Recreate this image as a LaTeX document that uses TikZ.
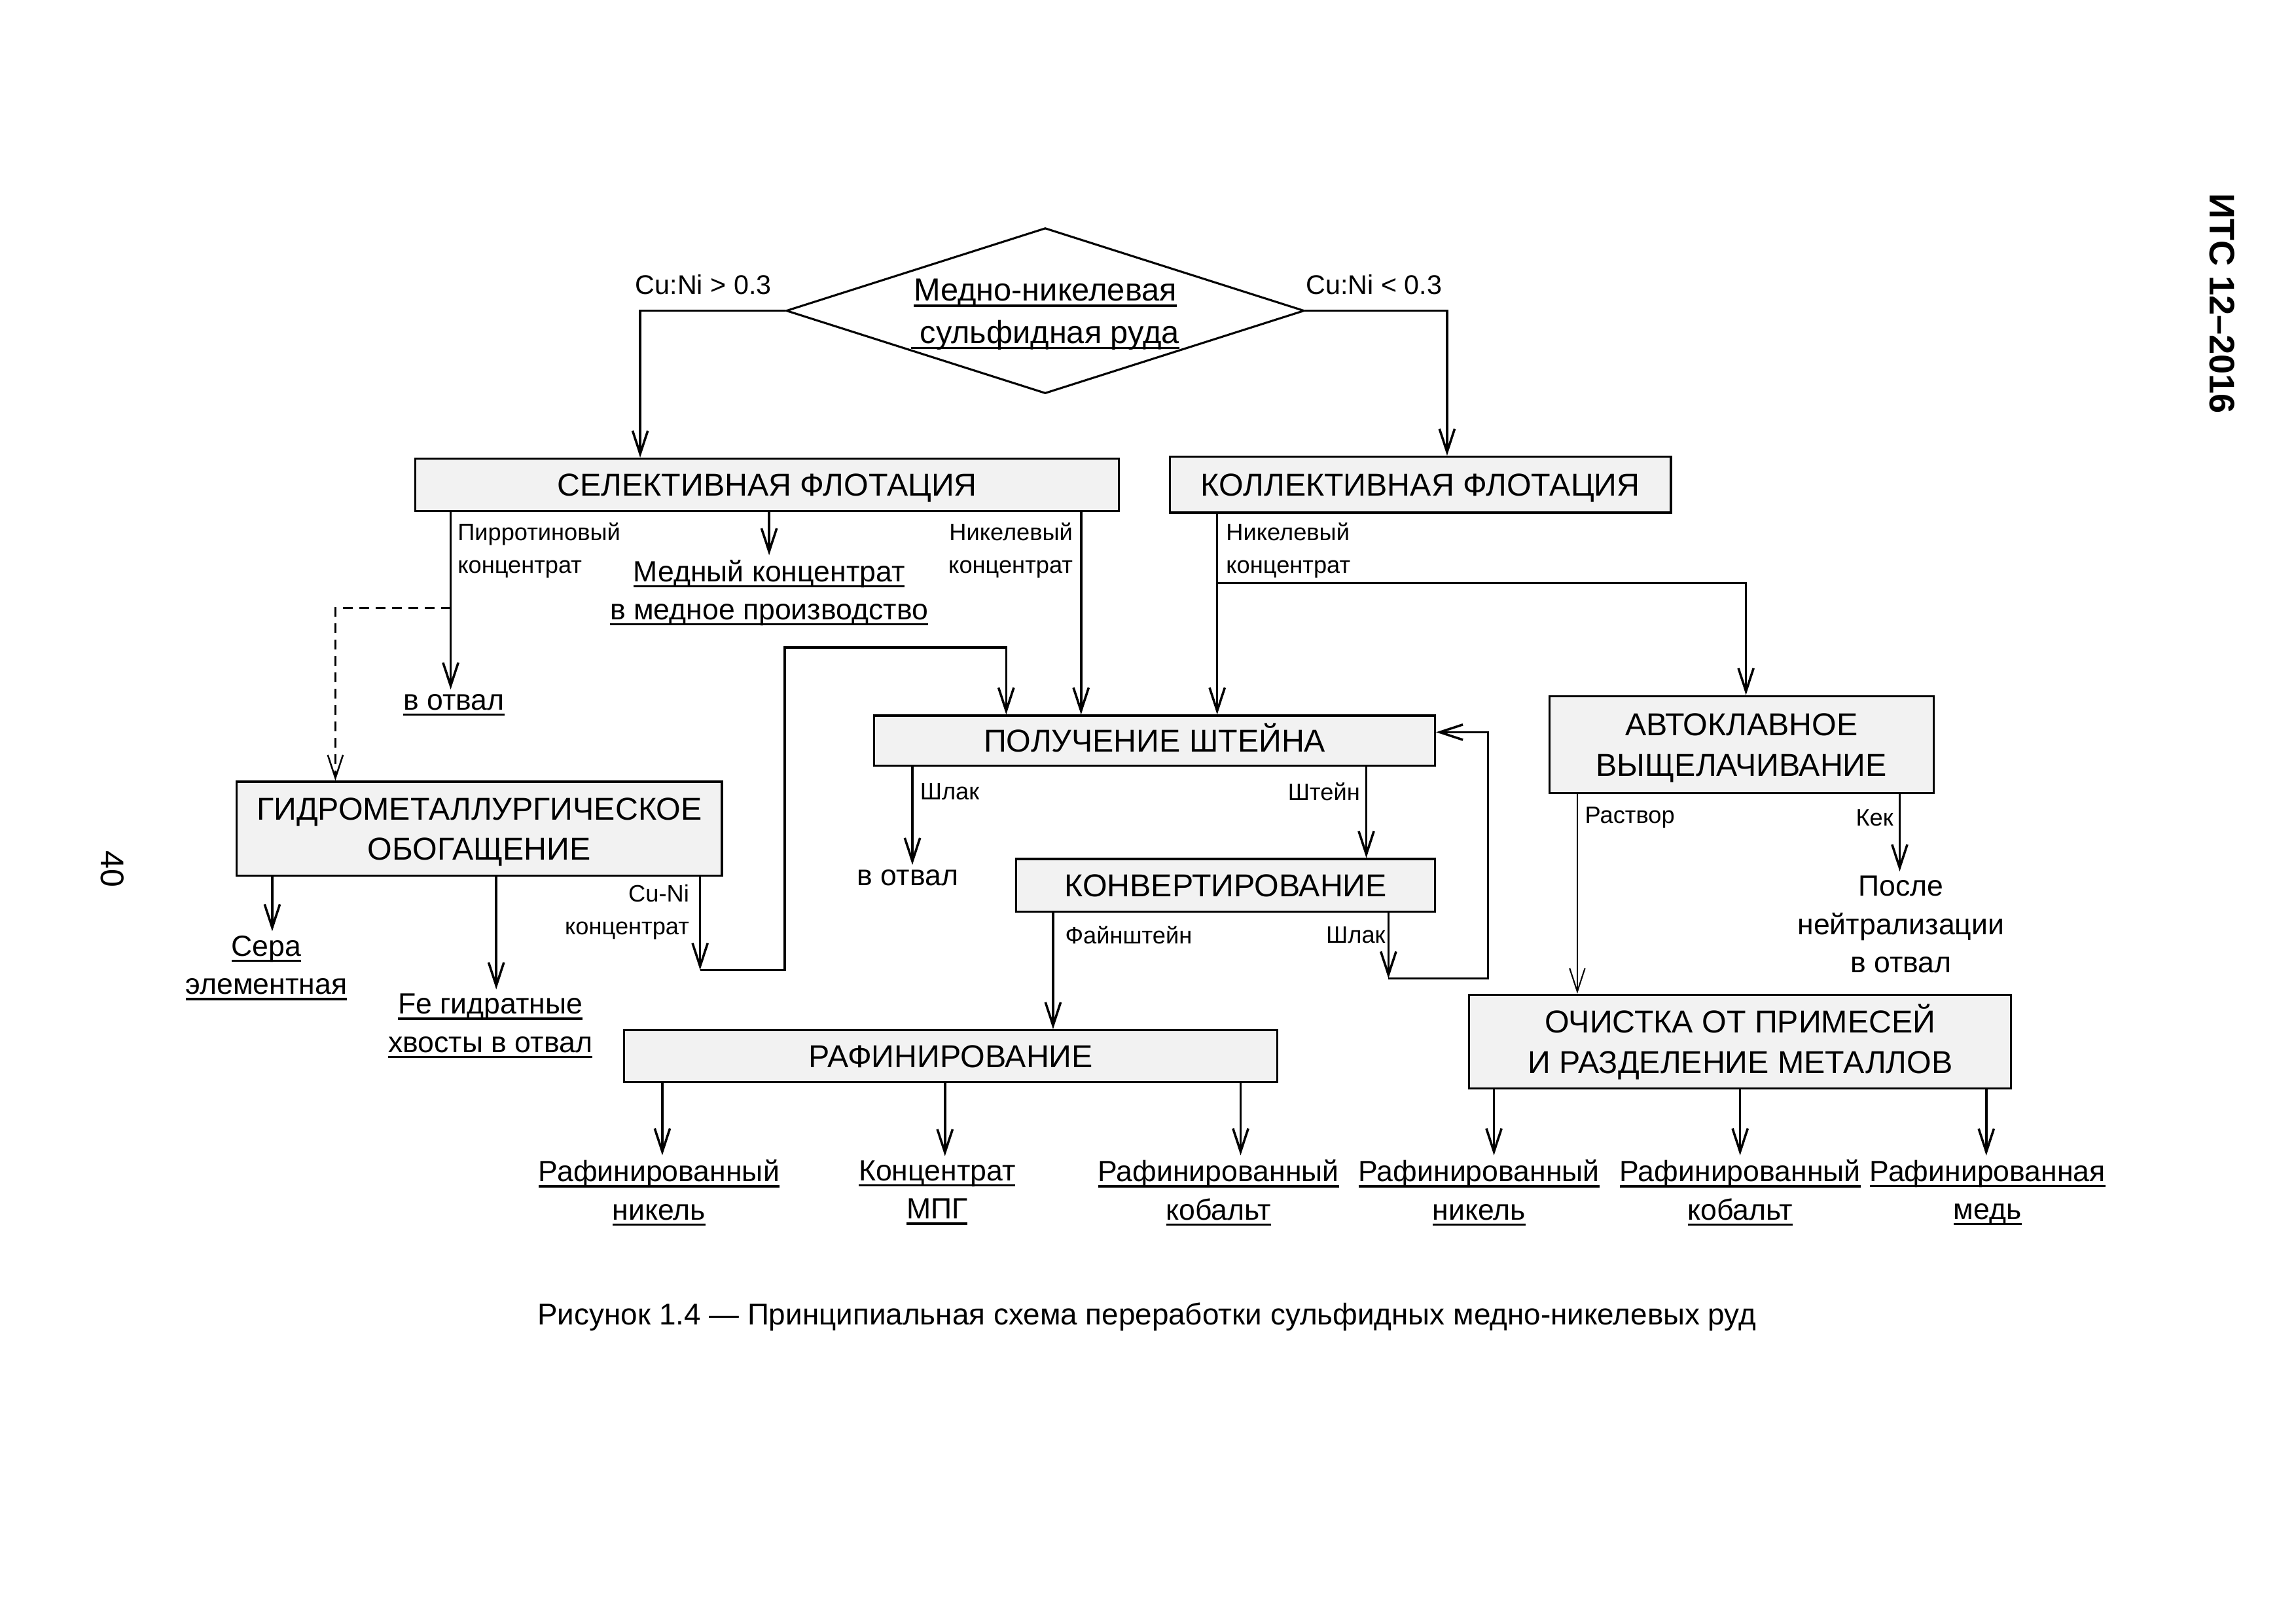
\documentclass[tikz,border=0pt]{standalone}
\usepackage{fontspec}
\setmainfont{Liberation Sans}
\usetikzlibrary{arrows.meta,shapes.geometric}
\definecolor{boxgray}{HTML}{F2F2F2}
\newcommand\uln[1]{\setbox0\hbox{#1}\leavevmode\rlap{\vrule height -1.3pt depth 2.1pt width \wd0}\box0}
\begin{document}
\begin{tikzpicture}[x=0.2388pt,y=-0.2388pt,
  box/.style={draw, line width=0.75pt, fill=boxgray, inner sep=0pt, align=center,
    font=\fontsize{11.6}{14.8}\selectfont, text height=8.3pt, text depth=0pt},
  box2/.style={box, text height=23.1pt, text depth=0pt},
  dia/.style={diamond, draw, line width=0.75pt, aspect=3.13, minimum width=190pt,
    minimum height=60.7pt, inner sep=0pt, align=center, font=\fontsize{11.7}{15.5}\selectfont,
    text height=23.9pt, text depth=0pt},
  arr/.style={-{Straight Barb[length=8.5pt,width=5.6pt]}, line width=0.85pt},
  thinarr/.style={-{Straight Barb[length=8.5pt,width=5.6pt]}, line width=0.5pt},
  dasharr/.style={-{Straight Barb[length=8.5pt,width=5.6pt]}, line width=0.6pt, dash pattern=on 3.5pt off 2.5pt},
  lbl/.style={font=\fontsize{8.7}{12}\selectfont, inner sep=0pt},
  cond/.style={font=\fontsize{9.9}{12}\selectfont, inner sep=0pt},
  outtxt/.style={font=\fontsize{10.7}{14}\selectfont, align=center, inner sep=1.5pt}]
\useasboundingbox (0,0) rectangle (3525.6,2491.4);

% columns
\coordinate (xL) at (983,0);
\coordinate (xR) at (2222,0);
\coordinate (xPyr) at (692,0);
\coordinate (xDash) at (515,0);
\coordinate (xNs) at (1660,0);
\coordinate (xNk) at (1869,0);
\coordinate (xAv) at (2681,0);
\coordinate (xLoop) at (1545,0);
\coordinate (xSer) at (418,0);
\coordinate (xFe) at (762,0);
\coordinate (xShl) at (1401,0);
\coordinate (xSht) at (2098,0);
\coordinate (xFai) at (1617,0);
\coordinate (xR1) at (1017,0);
\coordinate (xR2) at (1451,0);
\coordinate (xR3) at (1905,0);
\coordinate (xRas) at (2422,0);
\coordinate (xKek) at (2917,0);
\coordinate (xO1) at (2294,0);
\coordinate (xO2) at (2672,0);
\coordinate (xO3) at (3050,0);

% main nodes
\node[dia] (ore) at (1605,477) {\uln{Медно-никелевая}\\\uln{ сульфидная руда}};
\node[box, minimum width=258pt, minimum height=19.1pt] (sel) at (1178,744) {СЕЛЕКТИВНАЯ ФЛОТАЦИЯ};
\node[box, minimum width=183.8pt, minimum height=20.5pt] (kol) at (2181,744) {КОЛЛЕКТИВНАЯ ФЛОТАЦИЯ};
\node[box, minimum width=205.6pt, minimum height=18.4pt] (polu) at (1773,1137) {ПОЛУЧЕНИЕ ШТЕЙНА};
\node[box2, minimum width=177.9pt, minimum height=34.4pt] (gidro) at (736,1272) {ГИДРОМЕТАЛЛУРГИЧЕСКОЕ\\ОБОГАЩЕНИЕ};
\node[box, minimum width=153.5pt, minimum height=19.3pt] (konv) at (1882,1359) {КОНВЕРТИРОВАНИЕ};
\node[box, minimum width=239.5pt, minimum height=18.9pt] (raf) at (1460,1621) {РАФИНИРОВАНИЕ};
\node[box2, minimum width=140.9pt, minimum height=35.6pt] (avto) at (2674,1143) {АВТОКЛАВНОЕ\\ВЫЩЕЛАЧИВАНИЕ};
\node[box2, minimum width=198.7pt, minimum height=34.4pt] (ochi) at (2672,1599) {ОЧИСТКА ОТ ПРИМЕСЕЙ\\И РАЗДЕЛЕНИЕ МЕТАЛЛОВ};

% condition labels
\node[cond, anchor=base west] (cgt) at (975,452) {Cu:Ni > 0.3};
\node[cond, anchor=base east] (clt) at (2215,452) {Cu:Ni < 0.3};

% ore -> flotations
\draw[arr] (ore.west) -| (xL |- sel.north);
\draw[arr] (ore.east) -| (xR |- kol.north);

% selective flotation outputs
\node[outtxt] (otv1) at (697,1082) {\uln{в отвал}};
\node[lbl, anchor=west, align=left] (pyr) at (702,845) {Пирротиновый\\концентрат};
\node[outtxt] (medc) at (1181,910) {\uln{Медный концентрат}\\\uln{в медное производство}};
\node[lbl, anchor=east, align=right] (nik1) at (1648,845) {Никелевый\\концентрат};
\draw[arr] (xPyr |- sel.south) -- (xPyr |- otv1.north);
\coordinate (dsplit) at (692,933);
\draw[dasharr] (dsplit) -| (xDash |- gidro.north);
\draw[arr] (sel.south -| medc.north) -- (medc.north);
\draw[arr] (xNs |- sel.south) -- (xNs |- polu.north);

% collective flotation outputs
\node[lbl, anchor=west, align=left] (nik2) at (1882,845) {Никелевый\\концентрат};
\draw[arr] (xNk |- kol.south) -- (xNk |- polu.north);
\coordinate (kbr) at (1869,895);
\draw[arr] (kbr) -| (xAv |- avto.north);

% hydrometallurgical enrichment
\node[lbl, anchor=east, align=right] (cunil) at (1059,1400) {Cu-Ni\\концентрат};
\coordinate (cuni) at (1075,1489);
\coordinate (lp1) at (1205,1489);
\coordinate (lp2) at (1205,994);
\draw[arr] (gidro.south -| cuni) -- (cuni);
\draw[arr] (cuni) -- (lp1) -- (lp2) -| (xLoop |- polu.north);
\node[outtxt] (sera) at (409,1486) {\uln{Сера}\\\uln{элементная}};
\node[outtxt] (fe) at (753,1575) {\uln{Fe гидратные}\\\uln{хвосты в отвал}};
\draw[arr] (xSer |- gidro.south) -- (xSer |- sera.north);
\draw[arr] (xFe |- gidro.south) -- (xFe |- fe.north);

% matte smelting
\node[outtxt] (otv2) at (1394,1347) {в отвал};
\node[lbl, anchor=west] (shl1) at (1412,1215) {Шлак};
\node[lbl, anchor=east] (sht) at (2089,1215) {Штейн};
\draw[arr] (xShl |- polu.south) -- (xShl |- otv2.north);
\draw[arr] (xSht |- polu.south) -- (xSht |- konv.north);

% converting
\node[lbl, anchor=west] (fai) at (1635,1435) {Файнштейн};
\node[lbl, anchor=east] (shl2) at (2128,1435) {Шлак};
\draw[arr] (xFai |- konv.south) -- (xFai |- raf.north);
\coordinate (slg) at (2132,1502);
\coordinate (lp3) at (2285,1502);
\coordinate (lp4) at (2285,1124);
\draw[arr] (konv.south -| slg) -- (slg);
\draw[arr] (slg) -- (lp3) -- (lp4) -- (polu.east |- lp4);

% refining outputs
\node[outtxt] (rn1) at (1012,1831) {\uln{Рафинированный}\\\uln{никель}};
\node[outtxt] (mpg) at (1439,1831) {\uln{Концентрат}\\\uln{МПГ}};
\node[outtxt] (rc1) at (1871,1831) {\uln{Рафинированный}\\\uln{кобальт}};
\draw[arr] (xR1 |- raf.south) -- (xR1 |- rn1.north);
\draw[arr] (xR2 |- raf.south) -- (xR2 |- mpg.north);
\draw[arr] (xR3 |- raf.south) -- (xR3 |- rc1.north);

% autoclave leaching
\node[lbl, anchor=west] (ras) at (2433,1255) {Раствор};
\node[lbl, anchor=east] (kek) at (2908,1255) {Кек};
\node[outtxt] (posle) at (2919,1419) {После\\нейтрализации\\в отвал};
\draw[thinarr] (xRas |- avto.south) -- (xRas |- ochi.north);
\draw[arr] (xKek |- avto.south) -- (xKek |- posle.north);

% purification outputs
\node[outtxt] (rn2) at (2271,1831) {\uln{Рафинированный}\\\uln{никель}};
\node[outtxt] (rc2) at (2672,1831) {\uln{Рафинированный}\\\uln{кобальт}};
\node[outtxt] (rm) at (3052,1831) {\uln{Рафинированная}\\\uln{медь}};
\draw[arr] (xO1 |- ochi.south) -- (xO1 |- rn2.north);
\draw[arr] (xO2 |- ochi.south) -- (xO2 |- rc2.north);
\draw[arr] (xO3 |- ochi.south) -- (xO3 |- rm.north);

% caption and page marks
\node[font=\fontsize{11}{13}\selectfont, inner sep=0pt] (cap) at (1761,2022) {Рисунок 1.4 — Принципиальная схема переработки сульфидных медно-никелевых руд};
\node[rotate=-90, font=\bfseries\fontsize{13}{15}\selectfont, inner sep=0pt] (its) at (3412,466) {ИТС 12–2016};
\node[rotate=-90, font=\fontsize{12}{14}\selectfont, inner sep=0pt] (pg) at (173,1334) {40};
\end{tikzpicture}
\end{document}
